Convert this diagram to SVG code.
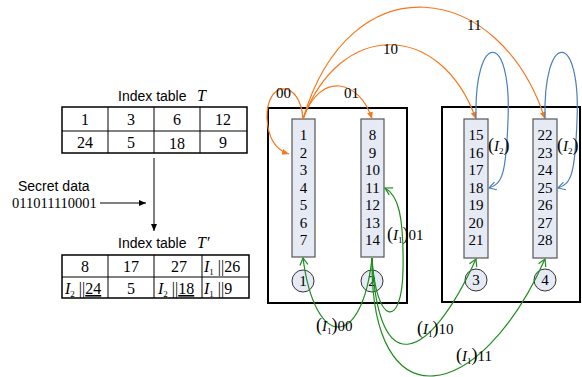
<svg xmlns="http://www.w3.org/2000/svg" width="582" height="377" viewBox="0 0 582 377">
<style>
.sans{font-family:"Liberation Sans",Arial,sans-serif;font-size:14px;fill:#000}
.serif{font-family:"Liberation Serif","Times New Roman",serif;fill:#000}
.cell{font-size:16px;text-anchor:middle}
.num{font-size:15px;text-anchor:middle}
.lab{font-size:15px}
.par{font-size:18px}
.it{font-style:italic}
.tbl{fill:#fff;stroke:#000;stroke-width:1.5}
.grid{stroke:#000;stroke-width:1}
.box{fill:#fff;stroke:#000;stroke-width:2}
.col{fill:#e6eaf5;stroke:#555;stroke-width:1.2}
.circ{fill:#e6eaf5;stroke:#333;stroke-width:1}
.or{fill:none;stroke:#f5781e;stroke-width:1.2;marker-end:url(#ao)}
.bl{fill:none;stroke:#4a7ebb;stroke-width:1.2;marker-end:url(#ab)}
.gr{fill:none;stroke:#1e8c1e;stroke-width:1.2;marker-end:url(#ag)}
.blk{fill:none;stroke:#000;stroke-width:1;marker-end:url(#ak)}
</style>
<defs>
<marker id="ak" markerWidth="8" markerHeight="8" refX="7" refY="4" orient="auto" markerUnits="userSpaceOnUse"><path d="M0,1 L7,4 L0,7 Z" fill="#000"/></marker>
<marker id="ao" markerWidth="8" markerHeight="8" refX="7" refY="4" orient="auto" markerUnits="userSpaceOnUse"><path d="M0,1 L7,4 L0,7 Z" fill="#f5781e"/></marker>
<marker id="ab" markerWidth="10" markerHeight="10" refX="8" refY="5" orient="auto" markerUnits="userSpaceOnUse"><path d="M1,1 L8,5 L1,9" fill="none" stroke="#4a7ebb" stroke-width="1.2"/></marker>
<marker id="ag" markerWidth="10" markerHeight="10" refX="8" refY="5" orient="auto" markerUnits="userSpaceOnUse"><path d="M1,1 L8,5 L1,9" fill="none" stroke="#1e8c1e" stroke-width="1.2"/></marker>
</defs>

<g id="tableT">
<text class="sans" x="118" y="101">Index table</text>
<text class="serif it" x="197" y="101" font-size="16">T</text>
<rect class="tbl" x="62" y="107" width="185" height="46"/>
<line class="grid" x1="62" y1="131" x2="247" y2="131"/>
<line class="grid" x1="108" y1="107" x2="108" y2="153"/>
<line class="grid" x1="154" y1="107" x2="154" y2="153"/>
<line class="grid" x1="200" y1="107" x2="200" y2="153"/>
<text class="serif cell" x="85" y="125">1</text>
<text class="serif cell" x="131" y="125">3</text>
<text class="serif cell" x="177" y="125">6</text>
<text class="serif cell" x="223" y="125">12</text>
<text class="serif cell" x="85" y="148">24</text>
<text class="serif cell" x="131" y="148">5</text>
<text class="serif cell" x="177" y="149">18</text>
<text class="serif cell" x="223" y="148">9</text>
</g>

<g id="secret">
<text class="sans" x="18" y="191" font-size="14">Secret data</text>
<text class="serif" x="12" y="208" font-size="14.5">011011110001</text>
</g>

<g id="tableT2">
<text class="sans" x="118" y="248">Index table</text>
<text class="serif it" x="197" y="248" font-size="16">T′</text>
<rect class="tbl" x="62" y="255" width="187" height="43"/>
<line class="grid" x1="62" y1="277" x2="249" y2="277"/>
<line class="grid" x1="108" y1="255" x2="108" y2="298"/>
<line class="grid" x1="154" y1="255" x2="154" y2="298"/>
<line class="grid" x1="202" y1="255" x2="202" y2="298"/>
<text class="serif cell" x="85" y="272">8</text>
<text class="serif cell" x="131" y="272">17</text>
<text class="serif cell" x="179" y="272">27</text>
<text class="serif" x="204" y="272" font-size="16"><tspan class="it">I</tspan><tspan font-size="9" dy="3">1</tspan><tspan dy="-3"> ||26</tspan></text>
<text class="serif" x="65" y="294" font-size="16"><tspan class="it">I</tspan><tspan font-size="9" dy="3">2</tspan><tspan dy="-3"> ||</tspan><tspan text-decoration="underline">24</tspan></text>
<text class="serif cell" x="131" y="294">5</text>
<text class="serif" x="158" y="294" font-size="16"><tspan class="it">I</tspan><tspan font-size="9" dy="3">2</tspan><tspan dy="-3"> ||</tspan><tspan text-decoration="underline">18</tspan></text>
<text class="serif" x="204" y="294" font-size="16"><tspan class="it">I</tspan><tspan font-size="9" dy="3">1</tspan><tspan dy="-3"> ||9</tspan></text>
</g>

<g id="boxA">
<rect class="box" x="268" y="108" width="139" height="195"/>
</g>
<g id="boxB">
<rect class="box" x="442" y="107" width="138" height="195"/>
</g>

<g id="col1">
<rect class="col" x="292" y="119" width="23" height="138"/>
<text class="serif num" x="303.5" y="140">1</text>
<text class="serif num" x="303.5" y="157.5">2</text>
<text class="serif num" x="303.5" y="175">3</text>
<text class="serif num" x="303.5" y="192.5">4</text>
<text class="serif num" x="303.5" y="210">5</text>
<text class="serif num" x="303.5" y="227.5">6</text>
<text class="serif num" x="303.5" y="245">7</text>
</g>
<g id="col2">
<rect class="col" x="361" y="119" width="23" height="138"/>
<text class="serif num" x="372.5" y="140">8</text>
<text class="serif num" x="372.5" y="157.5">9</text>
<text class="serif num" x="372.5" y="175">10</text>
<text class="serif num" x="372.5" y="192.5">11</text>
<text class="serif num" x="372.5" y="210">12</text>
<text class="serif num" x="372.5" y="227.5">13</text>
<text class="serif num" x="372.5" y="245">14</text>
</g>
<g id="col3">
<rect class="col" x="464" y="119" width="24" height="139"/>
<text class="serif num" x="476" y="140">15</text>
<text class="serif num" x="476" y="157.5">16</text>
<text class="serif num" x="476" y="175">17</text>
<text class="serif num" x="476" y="192.5">18</text>
<text class="serif num" x="476" y="210">19</text>
<text class="serif num" x="476" y="227.5">20</text>
<text class="serif num" x="476" y="245">21</text>
</g>
<g id="col4">
<rect class="col" x="533" y="119" width="24" height="139"/>
<text class="serif num" x="545" y="140">22</text>
<text class="serif num" x="545" y="157.5">23</text>
<text class="serif num" x="545" y="175">24</text>
<text class="serif num" x="545" y="192.5">25</text>
<text class="serif num" x="545" y="210">26</text>
<text class="serif num" x="545" y="227.5">27</text>
<text class="serif num" x="545" y="245">28</text>
</g>

<g id="c1"><circle class="circ" cx="303" cy="281" r="11"/><text class="serif num" x="303" y="286">1</text></g>
<g id="c2"><circle class="circ" cx="372" cy="281" r="11"/><text class="serif num" x="372" y="286">2</text></g>
<g id="c3"><circle class="circ" cx="476" cy="280" r="11"/><text class="serif num" x="476" y="285">3</text></g>
<g id="c4"><circle class="circ" cx="545" cy="280" r="11"/><text class="serif num" x="545" y="285">4</text></g>

<g id="connectors">
<path class="blk" d="M154,158 L154,231"/>
<path class="blk" d="M100,203 L146,203"/>
<path class="or" d="M303,119 C300,78 266,80 267,118 C268,140 276,150 289,154"/>
<path class="or" d="M303,119 C320,70 360,80 372,119"/>
<path class="or" d="M303,119 C340,20 440,20 476,119"/>
<path class="or" d="M303,119 C350,-40 500,-20 545,119"/>
<path class="bl" d="M476,119 C474,30 512,30 508,120 C506,175 502,184 489,188"/>
<path class="bl" d="M545,119 C543,30 581,30 577,120 C575,175 571,184 558,188"/>
<path class="gr" d="M372,258 C362,350 315,350 303,258"/>
<path class="gr" d="M372,258 C376,325 402,330 403,270 C404,215 398,195 385,188"/>
<path class="gr" d="M372,258 C378,385 430,360 476,259"/>
<path class="gr" d="M372,258 C370,425 480,405 545,259"/>
</g>

<g id="labels">
<text class="serif lab" x="276" y="98">00</text>
<text class="serif lab" x="344" y="98">01</text>
<text class="serif lab" x="383" y="54">10</text>
<text class="serif lab" x="467" y="30">11</text>
<text class="serif lab" x="488" y="151"><tspan class="par">(</tspan><tspan class="it">I</tspan><tspan font-size="9" dy="3">2</tspan><tspan class="par" dy="-3">)</tspan></text>
<text class="serif lab" x="557" y="151"><tspan class="par">(</tspan><tspan class="it">I</tspan><tspan font-size="9" dy="3">2</tspan><tspan class="par" dy="-3">)</tspan></text>
<text class="serif lab" x="387" y="240"><tspan class="par">(</tspan><tspan class="it">I</tspan><tspan font-size="9" dy="3">1</tspan><tspan class="par" dy="-3">)</tspan>01</text>
<text class="serif lab" x="316" y="331"><tspan class="par">(</tspan><tspan class="it">I</tspan><tspan font-size="9" dy="3">1</tspan><tspan class="par" dy="-3">)</tspan>00</text>
<text class="serif lab" x="417" y="334"><tspan class="par">(</tspan><tspan class="it">I</tspan><tspan font-size="9" dy="3">1</tspan><tspan class="par" dy="-3">)</tspan>10</text>
<text class="serif lab" x="456" y="361"><tspan class="par">(</tspan><tspan class="it">I</tspan><tspan font-size="9" dy="3">1</tspan><tspan class="par" dy="-3">)</tspan>11</text>
</g>
</svg>
